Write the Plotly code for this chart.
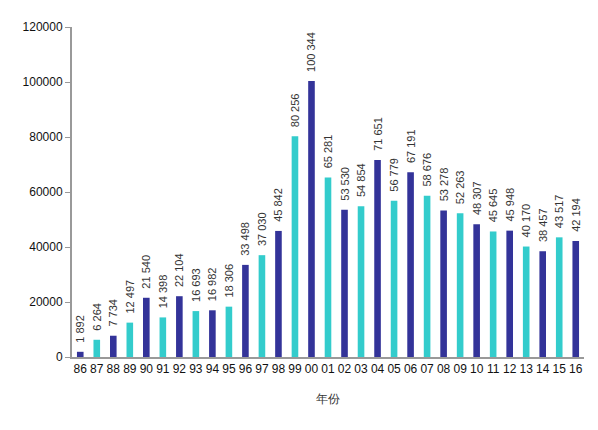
import plotly.graph_objects as go

years = ['86', '87', '88', '89', '90', '91', '92', '93', '94', '95', '96', '97', '98', '99', '00', '01',
         '02', '03', '04', '05', '06', '07', '08', '09', '10', '11', '12', '13', '14', '15', '16']
values = [1892, 6264, 7734, 12497, 21540, 14398, 22104, 16693, 16982, 18306, 33498, 37030, 45842, 80256,
          100344, 65281, 53530, 54854, 71651, 56779, 67191, 58676, 53278, 52263, 48307, 45645, 45948,
          40170, 38457, 43517, 42194]

dark = '#333399'
light = '#33CCCC'
colors = [dark if i % 2 == 0 else light for i in range(len(years))]
# leading nbsp gives the small gap between bar top and label seen in the original
labels = ['\u00a0\u00a0' + f'{v:,}'.replace(',', ' ') for v in values]

fig = go.Figure(go.Bar(x=years, y=values, text=labels, textposition='outside', textangle=-90,
                       cliponaxis=False, marker=dict(color=colors, line=dict(width=0)),
                       textfont=dict(size=11, color='#333333')))

# page body has an 8px margin, so the figure is a bit smaller than the window
fig.update_layout(width=590, height=422, plot_bgcolor='white', paper_bgcolor='white',
                  margin=dict(l=64, r=14, t=17, b=73), bargap=0.6, showlegend=False,
                  uniformtext=dict(minsize=11, mode='show'),
                  font=dict(family='Liberation Sans, Arial, sans-serif', size=12, color='#111111'))
fig.update_xaxes(type='category', showline=True, linecolor='#999999', linewidth=2, ticks='',
                 title=dict(text='年份', font=dict(size=12, color='#333333'), standoff=19),
                 tickfont=dict(size=12))
fig.update_yaxes(range=[0, 120000], dtick=20000, showgrid=False, zeroline=False, showline=True,
                 linecolor='#999999', linewidth=2, ticks='outside', ticklen=5, tickcolor='#999999',
                 tickformat='d', tickfont=dict(size=12))

fig.write_html("out.html")
